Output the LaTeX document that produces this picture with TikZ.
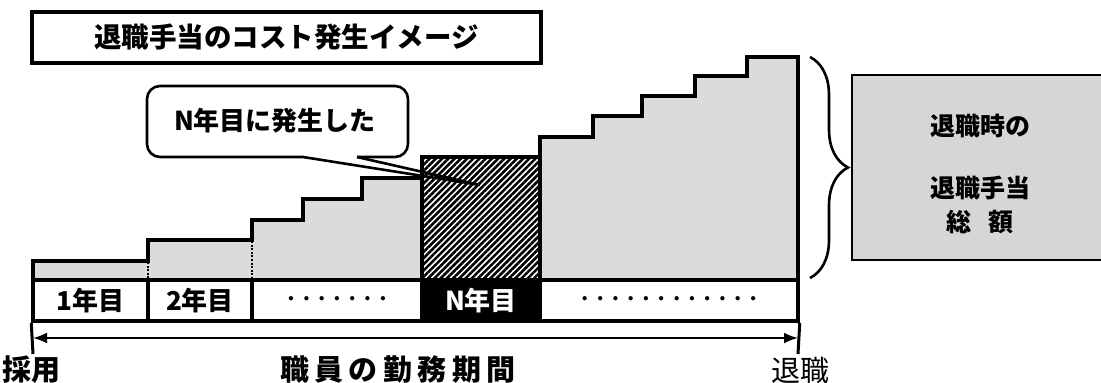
\documentclass[tikz,border=0pt]{standalone}
\usepackage{fontspec}
\newfontfamily\cjk{Noto Sans CJK JP}
\usetikzlibrary{arrows.meta,patterns.meta,decorations.pathreplacing}
\definecolor{stip}{gray}{0.86}
\definecolor{stipdark}{gray}{0.84}
\newcommand{\gapx}{\hspace{5.5pt}}
\begin{document}
\begin{tikzpicture}[x=1pt,y=-1pt,
  outline/.style={line width=3.8pt, line join=miter, line cap=rect},
  cell/.style={draw, line width=3.5pt, fill=white, minimum width=#1, minimum height=41pt, inner sep=0pt, font=\cjk\bfseries\fontsize{26}{26}\selectfont},
  lbl/.style={inner sep=0pt, font=\cjk\bfseries\fontsize{#1}{#1}\selectfont},
  dotsrow/.style={inner sep=0pt, font=\cjk\bfseries\fontsize{15.3}{15}\selectfont},
  stepsep/.style={line width=2.4pt, dash pattern=on 2pt off 1.6pt}]
\useasboundingbox (0,0) rectangle (1101,383);
% staircase fill
\fill[stip] (33,280) -- (33,261) -- (148,261) -- (148,240) -- (252,240) -- (252,220) -- (303,220) -- (303,199) -- (362,199) -- (362,178) -- (422,178) -- (422,157) -- (540,157) -- (540,137) -- (593,137) -- (593,116) -- (642,116) -- (642,96) -- (695,96) -- (695,76) -- (747,76) -- (747,57) -- (798,57) -- (798,280) -- cycle;
% N-th year hatched block
\fill[white] (422,157) rectangle (540,280);
\fill[pattern={Lines[angle=45,distance=4.4pt,line width=2.6pt]}] (422,157) rectangle (540,280);
\draw[outline] (422,280) -- (422,157) -- (540,157) -- (540,280);
% staircase outline
\draw[outline] (33,282) -- (33,261) -- (148,261) -- (148,240) -- (252,240) -- (252,220) -- (303,220) -- (303,199) -- (362,199) -- (362,178) -- (422,178) -- (422,157) -- (540,157) -- (540,137) -- (593,137) -- (593,116) -- (642,116) -- (642,96) -- (695,96) -- (695,76) -- (747,76) -- (747,57) -- (798,57) -- (798,282);
\draw[stepsep] (148,262) -- (148,280);
\draw[stepsep] (252,241) -- (252,280);
% year bar
\node[cell=115pt] (y1) at (90.5,300.5) {1年目};
\node[cell=104pt] (y2) at (200,300.5) {2年目};
\node[cell=170pt, dotsrow, draw, line width=3.5pt, fill=white, minimum height=41pt] (d1) at (337,300.5) {・・・・・・・};
\node[cell=118pt, fill=black, text=white] (yN) at (481,300.5) {N年目};
\node[cell=258pt, dotsrow, draw, line width=3.5pt, fill=white, minimum height=41pt] (d2) at (669,300.5) {・・・・・・・・・・・・};
% period arrow with end ticks
\coordinate (aL) at (33,338);
\coordinate (aR) at (798,338);
\coordinate (tL) at (33,354);
\coordinate (tR) at (798,354);
\draw[line width=3pt] (y1.south west) -- (tL);
\draw[line width=3pt] (d2.south east) -- (tR);
\draw[line width=2.2pt, {Latex[length=14pt,width=11pt]}-{Latex[length=14pt,width=11pt]}] (aL) -- (aR);
\node[lbl=29] (hire) at (31,370) {採用};
\node[lbl=29] (period) at (398,370) {職\gapx 員\gapx の\gapx 勤\gapx 務\gapx 期\gapx 間};
\node[inner sep=0pt, font=\cjk\fontsize{29}{29}\selectfont] (retire) at (800,370) {退職};
% title
\node[draw, line width=3.5pt, fill=white, minimum width=509pt, minimum height=51pt, lbl=27.5] (title) at (286.5,37.5) {退職手当のコスト発生イメージ};
% callout
\coordinate (cA) at (303,157);
\coordinate (cB) at (357,157);
\coordinate (tip) at (480,185);
\draw[line width=2.6pt, rounded corners=13pt] (cA) -- (147,157) -- (147,86) -- (408,86) -- (408,157) -- (cB);
\draw[line width=2.6pt, line join=miter] (cA) -- (tip) -- (cB);
\node[lbl=26] (callout) at (275,121) {N年目に発生した};
% brace
\draw[line width=2.6pt, decorate, decoration={brace, amplitude=38pt}] (810,57) -- (810,278);
% total box
\fill[stipdark] (852,75) rectangle (1110,260);
\draw[line width=2.6pt] (1110,75) -- (852,75) -- (852,260) -- (1110,260);
\node[lbl=25] (t1) at (980,126) {退職時の};
\node[lbl=25] (t2) at (980,188) {退職手当};
\node[lbl=25] (t3) at (980,222) {総\hspace{0.65em}額};
\end{tikzpicture}
\end{document}
